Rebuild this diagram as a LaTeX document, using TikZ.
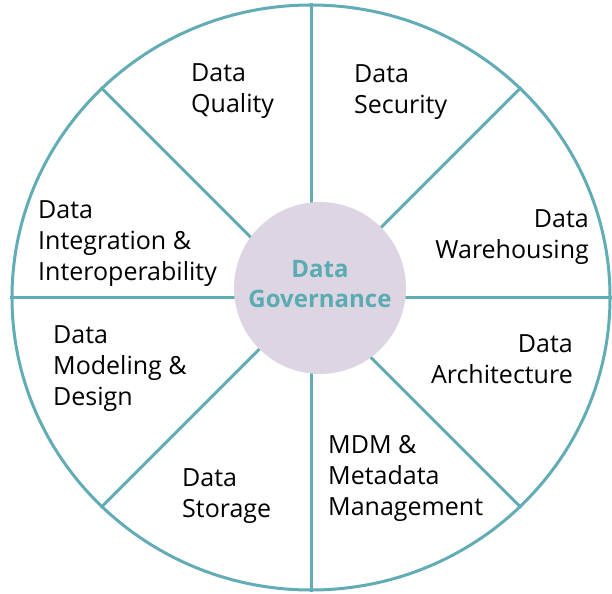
\documentclass[tikz,border=0pt]{standalone}
\usepackage{fontspec}
\setmainfont{Open Sans}
\usetikzlibrary{shapes,positioning}
\definecolor{rimteal}{HTML}{62ACB5}
\definecolor{hubfill}{HTML}{DDD6E2}
\definecolor{hubtext}{HTML}{5AABB3}
\tikzset{spoke/.style={draw=rimteal,line width=3bp},
  area/.style={inner sep=0pt,font=\fontsize{25bp}{31bp}\selectfont}}

\begin{document}
\begin{tikzpicture}[x=1bp,y=-1bp]
    \useasboundingbox (0,0) rectangle (612,594);
    \node (rim) [ellipse,draw=rimteal,line width=3bp,inner sep=0pt,
      minimum width=598bp,minimum height=585bp] at (311,297.5) {};
    \foreach \a in {0,45,...,315}
      \draw[spoke] (rim.center) -- (rim.\a);
    \node (hub) [circle,fill=hubfill,minimum size=172bp,inner sep=0pt] at (320,288) {};
    \node (hubname) [align=center,text=hubtext,inner sep=0pt,
      font=\fontsize{24bp}{30bp}\selectfont\bfseries] at ([yshift=4bp]hub.center) {Data\\Governance};

    % base anchor sits on the last line
    \node (quality) [area,anchor=base west,align=left] at (191,113) {Data\\Quality};
    \node (security) [area,anchor=base west,align=left] at (354,114) {Data\\Security};
    \node (warehouse) [area,anchor=base east,align=right] at (589,258) {Data\\Warehousing};
    \node (architecture) [area,anchor=base east,align=right] at (573,383) {Data\\Architecture};
    \node (mdm) [area,anchor=base west,align=left] at (328,515) {MDM \&\\Metadata\\Management};
    \node (storage) [area,anchor=base west,align=left] at (182,517) {Data\\Storage};
    \node (modeling) [area,anchor=base west,align=left] at (53,405) {Data\\Modeling \&\\Design};
    \node (integration) [area,anchor=base west,align=left] at (38,280) {Data\\Integration \&\\Interoperability};
\end{tikzpicture}
\end{document}
